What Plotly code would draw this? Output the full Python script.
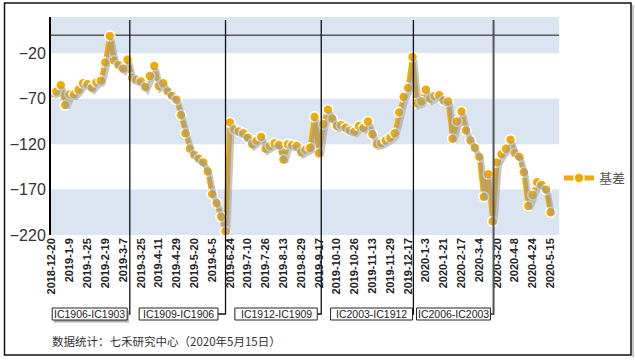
import plotly.graph_objects as go

# ---------------- data ----------------
tick_labels = ["2018-12-20", "2019-1-9", "2019-1-25", "2019-2-19", "2019-3-7", "2019-3-25",
               "2019-4-11", "2019-4-29", "2019-5-20", "2019-6-5", "2019-6-24", "2019-7-10",
               "2019-7-26", "2019-8-13", "2019-8-29", "2019-9-17", "2019-10-10", "2019-10-26",
               "2019-11-13", "2019-11-29", "2019-12-17", "2020-1-3", "2020-1-21", "2020-2-17",
               "2020-3-4", "2020-3-20", "2020-4-8", "2020-4-24", "2020-5-15"]

basis = [-64, -62, -55, -77, -65, -65, -60, -53, -54, -58,
         -52, -50, -30, -1, -28, -33, -37, -27, -47, -49,
         -51, -57, -45, -34, -56, -53, -62, -67, -71, -88,
         -108, -125, -132, -136, -140, -150, -175, -185, -200, -216,
         -96, -104, -106, -108, -113, -120, -116, -112, -125, -122,
         -119, -121, -137, -120, -121, -122, -129, -126, -124, -90,
         -130, -98, -82, -92, -100, -99, -102, -105, -106, -100,
         -102, -95, -109, -120, -119, -116, -113, -108, -85, -68,
         -58, -24, -75, -73, -60, -70, -67, -66, -72, -73,
         -114, -95, -84, -105, -116, -124, -134, -178, -153, -205,
         -140, -131, -125, -115, -130, -134, -151, -188, -176, -162,
         -165, -170, -195]

series_name = "基差"
contracts = ["IC1906-IC1903", "IC1909-IC1906", "IC1912-IC1909", "IC2003-IC1912", "IC2006-IC2003"]
roll_points = [17.5, 39.0, 60.5, 81.2, 99.2]
y_ticks = [-220, -170, -120, -70, -20]
footer = "数据统计：七禾研究中心（2020年5月15日）"

# ---------------- layout geometry ----------------
W, H = 635, 360
L, R, T, B = 51, 76, 17, 125
box_spans = [(0.07, 16.9), (19.6, 37.3), (41.1, 59.6), (62.6, 81.0), (81.9, 98.5)]
x_range = [-0.2, 113.9]
y_range = [-220, 20]

ORANGE = "#F2A900"
BAND = "#DBE5F1"

def py(px):  # pixel y -> paper y
    return (H - B - px) / (H - T - B)

def pxx(px):  # pixel x -> paper x
    return (px - L) / (W - L - R)

x_idx = list(range(len(basis)))
tickvals = [i * 4 for i in range(len(tick_labels))]

fig = go.Figure()

# shadow trace on shifted overlay axes
fig.add_trace(go.Scatter(x=x_idx, y=basis, mode="lines", xaxis="x2", yaxis="y2",
                         line=dict(color="rgba(150,155,160,0.55)", width=5.5),
                         showlegend=False, hoverinfo="skip"))
fig.add_trace(go.Scatter(x=x_idx, y=basis, mode="lines+markers", name=series_name,
                         line=dict(color=ORANGE, width=5),
                         marker=dict(color=ORANGE, size=10, line=dict(color="white", width=1.6))))

shapes = []
# bands
for lo, hi in [(-220, -170), (-120, -70), (-20, 20)]:
    shapes.append(dict(type="rect", xref="paper", yref="y", x0=0, x1=1, y0=lo, y1=hi,
                       fillcolor=BAND, line=dict(width=0), layer="below"))
# zero line
shapes.append(dict(type="line", xref="paper", yref="y", x0=0, x1=1, y0=0, y1=0,
                   line=dict(color="#5a5a5a", width=1.5), layer="below"))

y_top = py(20)
y_conn = py(314)
y_box0, y_box1 = py(320), py(308)
for k, (name, roll, (b0, b1)) in enumerate(zip(contracts, roll_points, box_spans)):
    col = "#555555" if k == len(contracts) - 1 else "#111111"
    wid = 2 if k == len(contracts) - 1 else 1.3
    shapes.append(dict(type="path", xref="x", yref="paper",
                       path=f"M {roll},{y_top} L {roll},{y_conn} L {b1},{y_conn}",
                       line=dict(color=col, width=wid)))
    if k == 0:
        shapes.append(dict(type="rect", xref="x", yref="paper", x0=b0 + 0.4, x1=b1 + 0.4,
                           y0=y_box0 - 0.012, y1=y_box1 - 0.012,
                           fillcolor="#b0b0b0", line=dict(width=0)))
    shapes.append(dict(type="rect", xref="x", yref="paper", x0=b0, x1=b1, y0=y_box0, y1=y_box1,
                       fillcolor="white", line=dict(color="#222222", width=1)))

# outer border with light right shadow
shapes.append(dict(type="line", xref="paper", yref="paper",
                   x0=pxx(633), x1=pxx(633), y0=py(357), y1=py(5),
                   line=dict(color="#c8c8c8", width=2)))
shapes.append(dict(type="rect", xref="paper", yref="paper",
                   x0=pxx(4.5), x1=pxx(631), y0=py(355), y1=py(3),
                   line=dict(color="#111111", width=1.5), fillcolor="rgba(0,0,0,0)"))

annotations = []
for name, (b0, b1) in zip(contracts, box_spans):
    annotations.append(dict(x=(b0 + b1) / 2, y=(y_box0 + y_box1) / 2, xref="x", yref="paper",
                            text=name, showarrow=False, xanchor="center", yanchor="middle",
                            font=dict(family="Liberation Sans, Arial", size=10.5, color="#222")))
annotations.append(dict(x=pxx(50), y=py(341), xref="paper", yref="paper", text=footer,
                        showarrow=False, xanchor="left", yanchor="middle",
                        font=dict(family="Noto Sans CJK SC", size=11.5, color="#333")))

fig.update_layout(
    width=W, height=H, margin=dict(l=L, r=R, t=T, b=B, autoexpand=False),
    paper_bgcolor="white", plot_bgcolor="white",
    showlegend=True,
    legend=dict(x=1.0, y=py(178), xanchor="left", yanchor="middle",
                font=dict(family="Noto Sans CJK SC", size=13, color="#555"),
                itemwidth=30, bgcolor="rgba(0,0,0,0)"),
    xaxis=dict(range=x_range, tickmode="array", tickvals=tickvals, ticktext=tick_labels,
               tickangle=-90, showgrid=False, zeroline=False, showline=False, ticks="",
               automargin=False,
               tickfont=dict(family="Liberation Sans, Arial", size=11, color="#222", weight="bold")),
    yaxis=dict(range=y_range, tickmode="array", tickvals=y_ticks, showgrid=False, zeroline=False,
               showline=True, linecolor="black", linewidth=2, ticks="", automargin=False,
               tickfont=dict(family="Liberation Sans, Arial", size=16, color="#333")),
    xaxis2=dict(range=[x_range[0] - 0.45, x_range[1] - 0.45], overlaying="x", visible=False),
    yaxis2=dict(range=[y_range[0] + 3.3, y_range[1] + 3.3], overlaying="y", visible=False),
    shapes=shapes, annotations=annotations,
)

fig.write_html("out.html", config={"displayModeBar": False},
               post_script="document.body.style.margin='0';document.body.style.overflow='hidden';")
